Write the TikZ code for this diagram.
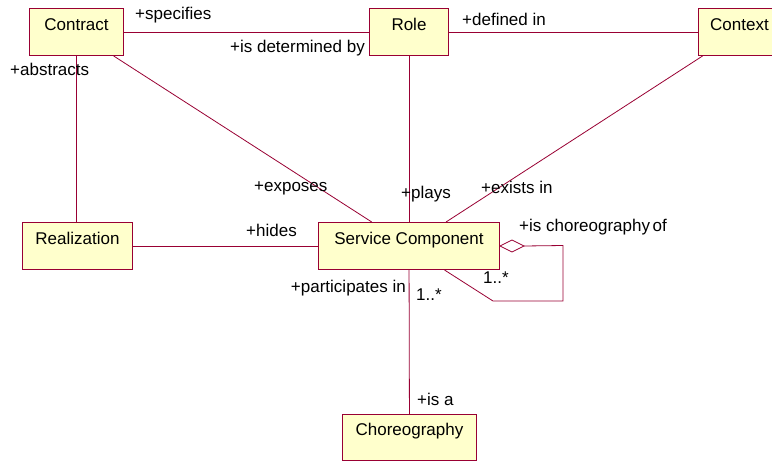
\documentclass[tikz,border=0pt]{standalone}
\usepackage{fontspec}
\setmainfont{Liberation Sans}
\definecolor{umlline}{RGB}{153,0,51}
\definecolor{umlfill}{RGB}{255,255,204}
\begin{document}
\begin{tikzpicture}[x=1pt,y=-1pt,
  font=\fontsize{17}{20}\selectfont,
  umlclass/.style={draw=umlline, line width=1pt, fill=umlfill, inner sep=0pt,
    anchor=north west, text height=22pt, text depth=25pt},
  assoc/.style={draw=umlline, line width=0.8pt},
  lbl/.style={inner sep=0pt, text=black}]

% page area
\path[fill=white, use as bounding box] (0,0) rectangle (772,461);
\clip (0,0) rectangle (772,461);

% classes
\node[umlclass, minimum width=94pt]  (contract)    at (29,8)    {Contract};
\node[umlclass, minimum width=79pt]  (role)        at (369,8)   {Role};
\node[umlclass, minimum width=82pt]  (context)     at (698,8)   {Context};
\node[umlclass, minimum width=110pt] (realization) at (22,222)  {Realization};
\node[umlclass, minimum width=181pt] (service)     at (318,222) {Service Component};
\node[umlclass, minimum width=134pt, text height=21pt, text depth=25pt] (choreo) at (342,414) {Choreography};

% associations
\draw[assoc] (contract) -- (role);
\draw[assoc] (role) -- (context);
\draw[assoc] (contract.south) -- (contract.south |- realization.north);
\draw[assoc] (contract) -- (service);
\draw[assoc] (role) -- (service);
\draw[assoc] (context) -- (service);
\draw[assoc] (realization) -- (service);
\draw[assoc] (service) -- (choreo);

% self-aggregation of Service Component
\coordinate (aggtip) at ([xshift=24pt]service.east);
\coordinate (loopA)  at (563,245.5);
\coordinate (loopB)  at (563,301);
\coordinate (loopC)  at (493,301);
\coordinate (loopEnd) at ([xshift=35.5pt]service.south);
\draw[assoc] (aggtip) -- (loopA) -- (loopB) -- (loopC) -- (loopEnd);
\draw[assoc, fill=white] (service.east) -- ++(12,-6) -- (aggtip) -- ++(-12,6) -- cycle;

% role names and multiplicities
\node[lbl, anchor=base west] (lspec)  at (135,19)    {+specifies};
\node[lbl, anchor=base east] (ldet)   at (365,52.7)  {+is determined by};
\node[lbl, anchor=base west] (ldef)   at (462,25)    {+defined in};
\node[lbl, anchor=base west] (labs)   at (10,75)     {+abstracts};
\node[lbl, anchor=base west] (lexp)   at (254,191)   {+exposes};
\node[lbl, anchor=base west] (lplay)  at (401,198)   {+plays};
\node[lbl, anchor=base west] (lexist) at (481,193)   {+exists in};
\node[lbl, anchor=base west] (lhide)  at (246,236.7) {+hides};
\node[lbl, anchor=base west] (lchor)  at (519,231.5) {+is choreography\hspace{0.15em}of};
\node[lbl, anchor=base west] (lmultA) at (483,283)   {1..*};
\node[lbl, anchor=base east] (lpart)  at (406,292.7) {+participates in};
\node[lbl, anchor=base west] (lmultB) at (416,300)   {1..*};
\node[lbl, anchor=base west] (lisa)   at (417,405)   {+is a};
\end{tikzpicture}
\end{document}
